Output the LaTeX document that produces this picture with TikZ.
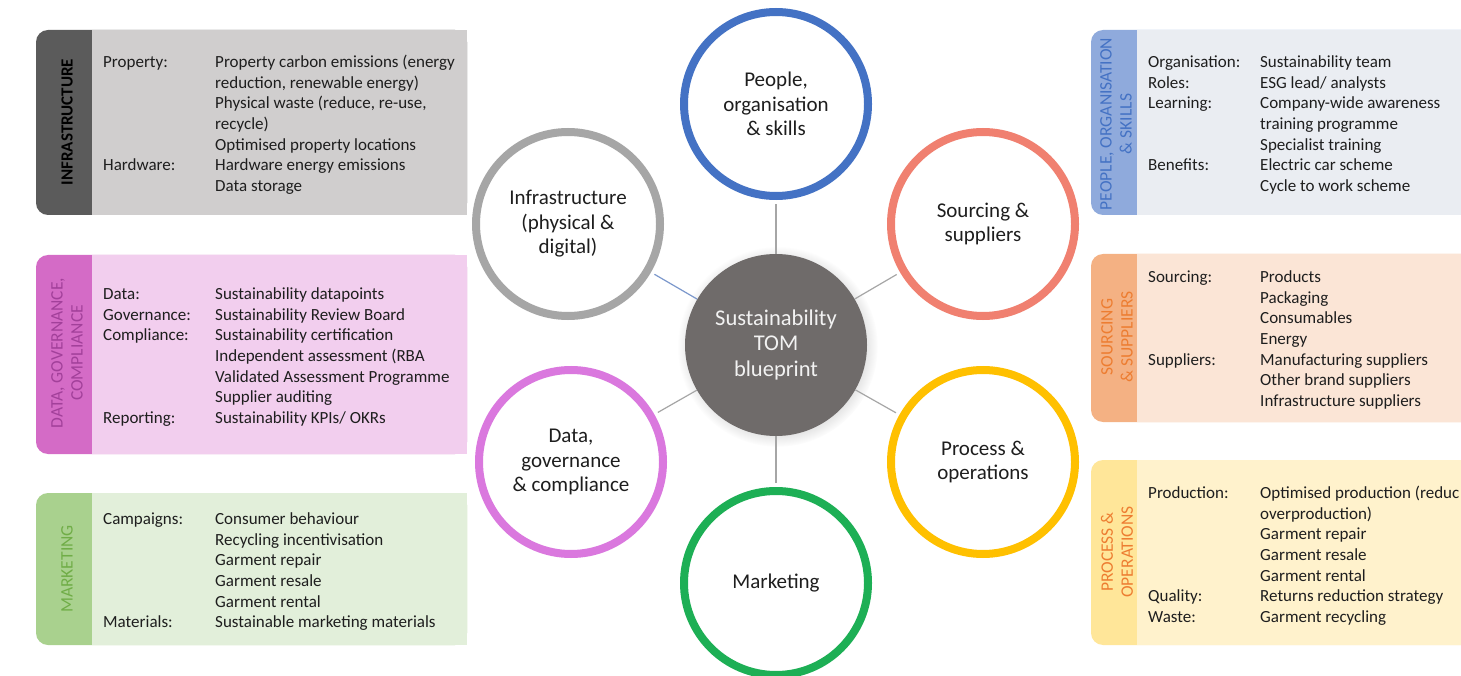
\documentclass[tikz,border=0pt]{standalone}
\usepackage{fontspec}
\setmainfont{Carlito}
\usetikzlibrary{shadows}
\definecolor{txt}{HTML}{1E1E1E}
\definecolor{pblue}{HTML}{4472C4}
\definecolor{ssalmon}{HTML}{F08070}
\definecolor{pyellow}{HTML}{FFC000}
\definecolor{mgreen}{HTML}{1DAF55}
\definecolor{dorchid}{HTML}{DA78DE}
\definecolor{igray}{HTML}{A6A6A6}
\definecolor{hubgray}{HTML}{6F6B6A}
\definecolor{linkgray}{HTML}{A6A6A6}
\definecolor{linkblue}{HTML}{7C98CC}
% boxes
\definecolor{infratab}{HTML}{5B5B5B}
\definecolor{infrabody}{HTML}{D0CECE}
\definecolor{datatab}{HTML}{D46BC6}
\definecolor{datatext}{HTML}{A2409A}
\definecolor{databody}{HTML}{F2CEEE}
\definecolor{marktab}{HTML}{A9D18E}
\definecolor{marktext}{HTML}{70AD47}
\definecolor{markbody}{HTML}{E2EFDA}
\definecolor{peotab}{HTML}{8FAADC}
\definecolor{peotext}{HTML}{4472C4}
\definecolor{peobody}{HTML}{EAEDF2}
\definecolor{soutab}{HTML}{F4B183}
\definecolor{soutext}{HTML}{ED7D31}
\definecolor{soubody}{HTML}{FBE5D6}
\definecolor{protab}{HTML}{FFE699}
\definecolor{protext}{HTML}{ED7D31}
\definecolor{probody}{HTML}{FFF2CC}
\begin{document}
\begin{tikzpicture}[x=1pt,y=-1pt,
  ring/.style={circle, draw=#1, line width=8pt, fill=white, minimum size=184pt,
    inner sep=0pt, align=center, text=txt, font=\fontsize{21}{24.5}\selectfont},
  link/.style={draw=linkgray, line width=1.2pt, shorten >=4pt},
  boxtext/.style={anchor=base west, inner sep=0pt, text=txt,
    font=\fontsize{17}{20.67}\selectfont},
  tabtext/.style={rotate=90, align=center, inner sep=0pt,
    font=\fontsize{17.5}{20}\selectfont}]
\useasboundingbox (0,0) rectangle (1461,676);
\fill[white] (0,0) rectangle (1461,676);
\clip (0,0) rectangle (1461,676);

% ---------- left boxes ----------
\fill[infratab, rounded corners=12pt] (36,30) rectangle (467,215);
\fill[infrabody] (92,30) rectangle (467,215);
\node[tabtext, font=\fontsize{17}{20}\selectfont\bfseries, text=black] (infratab) at (67,122) {INFRASTRUCTURE};
\node[boxtext] (infratext) at (103,67.5) {\begin{tabular}[t]{@{}p{112pt}@{}l@{}}
Property: & Property carbon emissions (energy\\
 & reduction, renewable energy)\\
 & Physical waste (reduce, re-use,\\
 & recycle)\\
 & Optimised property locations\\
Hardware: & Hardware energy emissions\\
 & Data storage
\end{tabular}};

\fill[datatab, rounded corners=12pt] (36,255) rectangle (467,454);
\fill[databody] (92,255) rectangle (467,454);
\node[tabtext, text=datatext] (datatab) at (67,353) {DATA, GOVERNANCE,\\COMPLIANCE};
\node[boxtext] (datatext) at (103,299.5) {\begin{tabular}[t]{@{}p{112pt}@{}l@{}}
Data: & Sustainability datapoints\\
Governance: & Sustainability Review Board\\
Compliance: & Sustainability certification\\
 & Independent assessment (RBA\\
 & Validated Assessment Programme\\
 & Supplier auditing\\
Reporting: & Sustainability KPIs/ OKRs
\end{tabular}};

\fill[marktab, rounded corners=12pt] (36,493) rectangle (467,645);
\fill[markbody] (92,493) rectangle (467,645);
\node[tabtext, text=marktext] (marktab) at (67,569) {MARKETING};
\node[boxtext] (marktext) at (103,524.5) {\begin{tabular}[t]{@{}p{112pt}@{}l@{}}
Campaigns: & Consumer behaviour\\
 & Recycling incentivisation\\
 & Garment repair\\
 & Garment resale\\
 & Garment rental\\
Materials: & Sustainable marketing materials
\end{tabular}};

% ---------- right boxes ----------
\fill[peotab, rounded corners=12pt] (1091,30) rectangle (1480,215);
\fill[peobody] (1137,30) rectangle (1480,215);
\node[tabtext, text=peotext] (peotab) at (1116,124) {PEOPLE, ORGANISATION\\\& SKILLS};
\node[boxtext] (peotext) at (1148,67.5) {\begin{tabular}[t]{@{}p{112pt}@{}l@{}}
Organisation: & Sustainability team\\
Roles: & ESG lead/ analysts\\
Learning: & Company-wide awareness\\
 & training programme\\
 & Specialist training\\
Benefits: & Electric car scheme\\
 & Cycle to work scheme
\end{tabular}};

\fill[soutab, rounded corners=12pt] (1091,254) rectangle (1480,422);
\fill[soubody] (1137,254) rectangle (1480,422);
\node[tabtext, text=soutext] (soutab) at (1117,337) {SOURCING\\\& SUPPLIERS};
\node[boxtext] (soutext) at (1148,282.5) {\begin{tabular}[t]{@{}p{112pt}@{}l@{}}
Sourcing: & Products\\
 & Packaging\\
 & Consumables\\
 & Energy\\
Suppliers: & Manufacturing suppliers\\
 & Other brand suppliers\\
 & Infrastructure suppliers
\end{tabular}};

\fill[protab, rounded corners=12pt] (1091,460) rectangle (1480,645);
\fill[probody] (1137,460) rectangle (1480,645);
\node[tabtext, text=protext] (protab) at (1117,552) {PROCESS \&\\OPERATIONS};
\node[boxtext] (protext) at (1148,498.5) {\begin{tabular}[t]{@{}p{112pt}@{}l@{}}
Production: & Optimised production (reduc\\
 & overproduction)\\
 & Garment repair\\
 & Garment resale\\
 & Garment rental\\
Quality: & Returns reduction strategy\\
Waste: & Garment recycling
\end{tabular}};

% ---------- circles ----------
\node[circle, fill=hubgray, minimum size=182pt, inner sep=0pt, align=center,
  text=white!90!gray, font=\fontsize{22.5}{25.5}\selectfont,
  circular drop shadow={shadow xshift=1.5pt, shadow yshift=-1.5pt, opacity=0.25}]
  (hub) at (776,345) {Sustainability\\TOM\\blueprint};
\node[ring=pblue] (people) at (776,104) {People,\\organisation\\\& skills};
\node[ring=igray] (infra) at (568,224) {Infrastructure\\(physical \&\\digital)};
\node[ring=ssalmon] (sourcing) at (983,224) {Sourcing \&\\suppliers};
\node[ring=dorchid] (data) at (571,462) {Data,\\governance\\\& compliance};
\node[ring=pyellow] (process) at (983,462) {Process \&\\operations};
\node[ring=mgreen] (marketing) at (776,583) {Marketing};

% ---------- connectors ----------
\draw[link] (hub) -- (people);
\draw[link, draw=linkblue] (hub) -- (infra);
\draw[link] (hub) -- (sourcing);
\draw[link] (hub) -- (data);
\draw[link] (hub) -- (process);
\draw[link] (hub) -- (marketing);
\end{tikzpicture}
\end{document}
